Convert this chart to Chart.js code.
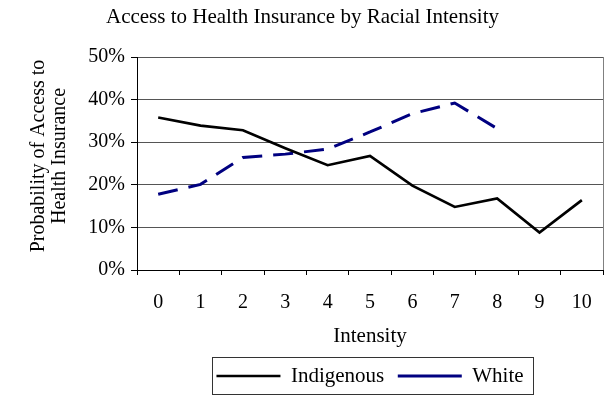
<!DOCTYPE html>
<html>
<head>
<meta charset="utf-8">
<script src="https://cdn.jsdelivr.net/npm/chart.js@4"></script>
<style>
html,body{margin:0;padding:0;background:#fff;}
#wrap{width:608px;height:400px;}
</style>
</head>
<body>
<div id="wrap"><canvas id="c" width="608" height="400"></canvas></div>
<script>
const categories = ['0','1','2','3','4','5','6','7','8','9','10'];
const indigenous = [35.8, 33.9, 32.8, 28.6, 24.6, 26.8, 19.8, 14.8, 16.8, 8.8, 16.4];
const white = [17.8, 20.1, 26.4, 27.2, 28.4, 32.4, 36.7, 39.2, 33.2, null, null];
const yTicks = [0, 10, 20, 30, 40, 50];

const FONT = 'Liberation Serif, Times New Roman, serif';

const frame = {
  id: 'frame',
  afterDraw(chart) {
    const ctx = chart.ctx, a = chart.chartArea;
    ctx.save();
    ctx.strokeStyle = '#808080';
    ctx.lineWidth = 1;
    ctx.beginPath();
    ctx.moveTo(Math.round(a.right) + 0.5, a.top);
    ctx.lineTo(Math.round(a.right) + 0.5, a.bottom);
    ctx.stroke();
    const hb = chart.legend && chart.legend.legendHitBoxes;
    if (hb && hb.length) {
      const first = hb[0], last = hb[hb.length - 1];
      const cy = first.top + first.height / 2;
      const l = Math.round(first.left - 4) + 0.5;
      const r = Math.round(last.left + last.width + 9) + 0.5;
      const t = Math.round(cy - 19) + 0.5;
      ctx.strokeStyle = '#333';
      ctx.strokeRect(l, t, r - l, 37);
    }
    ctx.restore();
  }
};

new Chart(document.getElementById('c'), {
  type: 'line',
  data: {
    labels: categories,
    datasets: [
      { label: 'Indigenous', data: indigenous, borderColor: '#000', backgroundColor: '#000', borderWidth: 2.7, pointRadius: 0, tension: 0, fill: false },
      { label: 'White', data: white, borderColor: '#000080', backgroundColor: '#000080', borderWidth: 3, borderDash: [20, 11], pointRadius: 0, tension: 0, fill: false, spanGaps: false }
    ]
  },
  options: {
    responsive: false,
    animation: false,
    layout: { padding: { left: 0, right: 3, top: 0, bottom: 3.5 } },
    plugins: {
      title: { display: true, text: 'Access to Health Insurance by Racial Intensity', color: '#000', font: { family: FONT, size: 21, weight: 'normal' }, padding: { top: 4.4, bottom: 27.4 } },
      legend: {
        display: true, position: 'bottom', fullSize: false,
        labels: { usePointStyle: true, pointStyle: 'line', pointStyleWidth: 64, padding: 13.5, color: '#000', font: { family: FONT, size: 21 } }
      },
      tooltip: { enabled: false }
    },
    scales: {
      x: {
        type: 'category', offset: true,
        grid: { display: true, offset: true, drawOnChartArea: false, drawTicks: true, tickLength: 5, tickColor: '#000' },
        border: { display: true, color: '#000', width: 1 },
        ticks: { color: '#000', padding: 16, font: { family: FONT, size: 20 }, maxRotation: 0 },
        title: { display: true, text: 'Intensity', color: '#000', font: { family: FONT, size: 21 }, padding: { top: 0, bottom: 3 } },
        afterFit(s) { s.height = 82; }
      },
      y: {
        min: 0, max: 50,
        afterBuildTicks(s) { s.ticks = yTicks.map(v => ({ value: v })); },
        grid: { color: c => (c.tick && c.tick.value === 0) ? 'rgba(0,0,0,0)' : '#555', lineWidth: 1, tickLength: 6, tickColor: '#000' },
        border: { display: true, color: '#000', width: 1 },
        ticks: { color: '#000', padding: 6, font: { family: FONT, size: 20 }, callback: v => v + '%' },
        title: { display: true, text: ['   Probability of Access to', '   Health Insurance'], color: '#000', font: { family: FONT, size: 20, lineHeight: 1.05 }, padding: { top: 28.5, bottom: 0 } },
        afterFit(s) { s.width = 137; }
      }
    }
  },
  plugins: [frame]
});
</script>
</body>
</html>
